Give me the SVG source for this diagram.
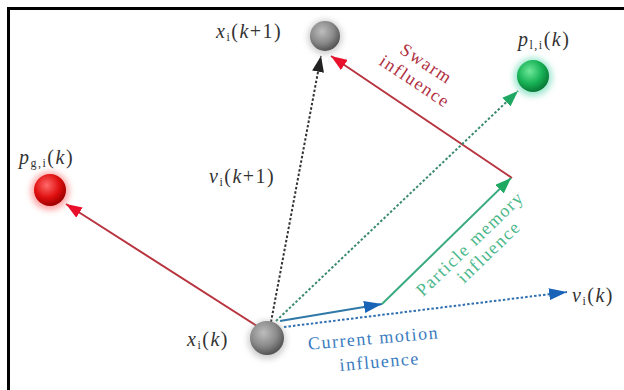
<svg xmlns="http://www.w3.org/2000/svg" width="624" height="390" viewBox="0 0 624 390">
<style>
.math{font-family:"Liberation Serif","Times New Roman",serif;font-size:20px;fill:#333;letter-spacing:1.5px}
.it{font-style:italic}
.sub{font-size:12px}
.lbl{font-family:"Liberation Serif","Times New Roman",serif;font-size:18px;letter-spacing:1.5px;text-anchor:middle}
.dot{stroke-width:2;stroke-dasharray:2.5 2;fill:none}
.sol{stroke-width:2;fill:none}
</style>
<defs>
<radialGradient id="gGray" cx="0.4" cy="0.35" r="0.65">
<stop offset="0" stop-color="#bdbdbd"/><stop offset="0.6" stop-color="#8a8a8a"/><stop offset="1" stop-color="#555"/>
</radialGradient>
<radialGradient id="gGreen" cx="0.4" cy="0.35" r="0.65">
<stop offset="0" stop-color="#6fe89a"/><stop offset="0.6" stop-color="#17b255"/><stop offset="1" stop-color="#0a7a38"/>
</radialGradient>
<radialGradient id="gRed" cx="0.4" cy="0.35" r="0.65">
<stop offset="0" stop-color="#ff6a6a"/><stop offset="0.6" stop-color="#e01010"/><stop offset="1" stop-color="#a00000"/>
</radialGradient>
<filter id="blur" x="-50%" y="-50%" width="200%" height="200%"><feGaussianBlur stdDeviation="3"/></filter>
<marker id="aRed" markerUnits="userSpaceOnUse" markerWidth="18" markerHeight="12" refX="16" refY="6" orient="auto"><path d="M0,0 L16,6 L0,12 Z" fill="#e8102a"/></marker>
<marker id="aBlack" markerUnits="userSpaceOnUse" markerWidth="18" markerHeight="12" refX="16" refY="6" orient="auto"><path d="M0,0 L16,6 L0,12 Z" fill="#222"/></marker>
<marker id="aGreen" markerUnits="userSpaceOnUse" markerWidth="18" markerHeight="12" refX="16" refY="6" orient="auto"><path d="M0,0 L16,6 L0,12 Z" fill="#1fa862"/></marker>
<marker id="aBlue" markerUnits="userSpaceOnUse" markerWidth="20" markerHeight="12" refX="18" refY="6" orient="auto"><path d="M0,0 L18,6 L0,12 Z" fill="#1a64b8"/></marker>
</defs>
<rect x="0" y="0" width="624" height="390" fill="#fff"/>
<rect x="8.5" y="8.5" width="700" height="500" fill="none" stroke="#000" stroke-width="3"/>
<g id="connectors">
<line x1="257" y1="326" x2="66" y2="204" class="sol" stroke="#b8343f" marker-end="url(#aRed)"/>
<line x1="271" y1="322" x2="321" y2="56" class="dot" stroke="#333" marker-end="url(#aBlack)"/>
<line x1="512" y1="178" x2="331" y2="56" class="sol" stroke="#b8343f" marker-end="url(#aRed)"/>
<line x1="276" y1="321" x2="518" y2="91" class="dot" stroke="#3a8a70" marker-end="url(#aGreen)"/>
<line x1="280" y1="321" x2="382" y2="304" class="sol" stroke="#2f78a8" marker-end="url(#aBlue)"/>
<line x1="382" y1="304" x2="511" y2="178" class="sol" stroke="#3aaa80" marker-end="url(#aGreen)"/>
<line x1="284" y1="327" x2="567" y2="292" class="dot" stroke="#2f6fb0" marker-end="url(#aBlue)"/>
</g>
<g id="node-xk1">
<circle cx="325" cy="37" r="17" fill="#999" opacity="0.5" filter="url(#blur)"/>
<circle cx="325" cy="36" r="15" fill="url(#gGray)"/>
<text class="math" x="216" y="38"><tspan class="it">x</tspan><tspan class="sub" dy="3">i</tspan><tspan dy="-3">(</tspan><tspan class="it">k</tspan><tspan>+1)</tspan></text>
</g>
<g id="node-pi">
<circle cx="533" cy="77" r="19" fill="#3c9" opacity="0.5" filter="url(#blur)"/>
<circle cx="533" cy="76" r="16" fill="url(#gGreen)"/>
<text class="math" x="518" y="46"><tspan class="it">p</tspan><tspan class="sub" dy="3">l,i</tspan><tspan dy="-3">(</tspan><tspan class="it">k</tspan><tspan>)</tspan></text>
</g>
<g id="node-pg">
<circle cx="50" cy="191" r="19" fill="#f44" opacity="0.5" filter="url(#blur)"/>
<circle cx="50" cy="190" r="16" fill="url(#gRed)"/>
<text class="math" x="19" y="164"><tspan class="it">p</tspan><tspan class="sub" dy="3">g,i</tspan><tspan dy="-3">(</tspan><tspan class="it">k</tspan><tspan>)</tspan></text>
</g>
<g id="node-xk">
<circle cx="267" cy="340" r="19" fill="#999" opacity="0.5" filter="url(#blur)"/>
<circle cx="267" cy="338" r="17" fill="url(#gGray)"/>
<text class="math" x="187" y="346"><tspan class="it">x</tspan><tspan class="sub" dy="3">i</tspan><tspan dy="-3">(</tspan><tspan class="it">k</tspan><tspan>)</tspan></text>
</g>
<g id="label-vk1">
<text class="math" x="209" y="183"><tspan class="it">v</tspan><tspan class="sub" dy="3">i</tspan><tspan dy="-3">(</tspan><tspan class="it">k</tspan><tspan>+1)</tspan></text>
</g>
<g id="label-vk">
<text class="math" x="572" y="302"><tspan class="it">v</tspan><tspan class="sub" dy="3">i</tspan><tspan dy="-3">(</tspan><tspan class="it">k</tspan><tspan>)</tspan></text>
</g>
<g id="label-swarm">
<text class="lbl" fill="#b0303f" transform="translate(421,72) rotate(33.6)"><tspan x="0" y="-4">Swarm</tspan><tspan x="0" y="17">influence</tspan></text>
</g>
<g id="label-particle">
<text class="lbl" fill="#4cb88c" transform="translate(474,248) rotate(-44)"><tspan x="0" y="0">Particle memory</tspan><tspan x="8" y="19">influence</tspan></text>
</g>
<g id="label-current">
<text class="lbl" fill="#3a7cc0" transform="translate(374,344) rotate(-5)"><tspan x="0" y="0">Current motion</tspan><tspan x="4" y="24">influence</tspan></text>
</g>
</svg>
